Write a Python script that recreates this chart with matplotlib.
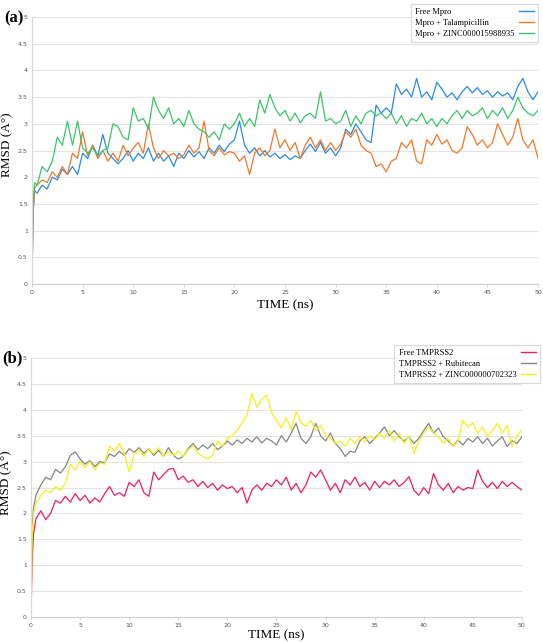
import matplotlib
matplotlib.use("Agg")
import matplotlib.pyplot as plt
import numpy as np

# time axis (ns): a few early frames, then every 0.5 ns
time_ns = [0.0, 0.1, 0.25] + [0.5 * i for i in range(1, 101)]

# ---- panel (a): Mpro ----
free_mpro = [0.0, 1.30, 1.75,
             1.70, 1.85, 1.78, 2.00, 1.95, 2.15, 2.05, 2.20, 2.05, 2.45,
             2.35, 2.60, 2.40, 2.80, 2.45, 2.35, 2.25, 2.35, 2.50, 2.30,
             2.45, 2.35, 2.55, 2.30, 2.45, 2.30, 2.40, 2.20, 2.45, 2.35,
             2.50, 2.38, 2.48, 2.35, 2.55, 2.45, 2.60, 2.48, 2.62, 2.70,
             3.05, 2.60, 2.45, 2.55, 2.40, 2.50, 2.38, 2.45, 2.35, 2.42,
             2.33, 2.40, 2.35, 2.50, 2.62, 2.48, 2.65, 2.45, 2.55, 2.40,
             2.55, 2.90, 2.80, 3.00, 2.85, 2.70, 2.65, 3.35, 3.20, 3.30,
             3.20, 3.75, 3.55, 3.65, 3.50, 3.85, 3.50, 3.60, 3.45, 3.78,
             3.65, 3.50, 3.58, 3.45, 3.60, 3.70, 3.58, 3.68, 3.55, 3.62,
             3.50, 3.60, 3.52, 3.58, 3.45, 3.70, 3.85, 3.60, 3.45, 3.60]

mpro_talampicillin = [0.0, 1.30, 1.80,
                      1.85, 1.95, 1.90, 2.10, 2.00, 2.20, 2.05, 2.45, 2.35, 2.85,
                      2.40, 2.60, 2.35, 2.50, 2.30, 2.45, 2.30, 2.60, 2.40, 2.55,
                      2.65, 2.45, 3.00, 2.55, 2.35, 2.50, 2.40, 2.45, 2.35, 2.42,
                      2.60, 2.45, 2.55, 3.05, 2.50, 2.40, 2.55, 2.42, 2.48, 2.45,
                      2.30, 2.40, 2.05, 2.45, 2.55, 2.40, 2.50, 2.90, 2.55, 2.70,
                      2.50, 2.65, 2.35, 2.60, 2.75, 2.55, 2.70, 2.50, 2.65, 2.50,
                      2.62, 2.85, 2.75, 2.90, 2.60, 2.50, 2.45, 2.20, 2.25, 2.10,
                      2.30, 2.35, 2.65, 2.55, 2.70, 2.30, 2.25, 2.70, 2.60, 2.80,
                      2.62, 2.70, 2.50, 2.45, 2.55, 2.95, 2.80, 2.60, 2.70, 2.55,
                      2.65, 3.00, 2.80, 2.60, 2.75, 3.10, 2.70, 2.55, 2.70, 2.35]

mpro_zinc15988935 = [0.0, 1.40, 1.90,
                     1.85, 2.20, 2.10, 2.30, 2.75, 2.60, 3.05, 2.60, 3.05, 2.55,
                     2.45, 2.55, 2.40, 2.50, 2.55, 3.00, 2.95, 2.75, 2.70, 3.30,
                     3.05, 3.10, 2.90, 3.50, 3.25, 3.10, 3.30, 3.00, 3.10, 2.95,
                     3.25, 3.00, 2.90, 2.85, 2.75, 2.85, 2.70, 3.00, 2.90, 3.00,
                     3.20, 2.95, 3.10, 2.95, 3.45, 3.20, 3.55, 3.30, 3.15, 3.25,
                     3.05, 3.20, 3.02, 3.15, 3.20, 3.10, 3.60, 3.05, 3.10, 3.00,
                     3.05, 3.25, 2.95, 3.15, 3.00, 3.20, 3.25, 3.15, 3.20, 3.10,
                     3.20, 3.00, 3.15, 2.95, 3.10, 3.05, 3.20, 3.00, 3.10, 2.95,
                     3.10, 3.00, 3.15, 3.25, 3.10, 3.25, 3.15, 3.20, 3.30, 3.10,
                     3.25, 3.15, 3.30, 3.10, 3.25, 3.50, 3.30, 3.20, 3.15, 3.25]

# ---- panel (b): TMPRSS2 ----
free_tmprss2 = [0.0, 1.00, 1.60,
                1.90, 2.05, 1.88, 2.00, 2.25, 2.20, 2.33, 2.22, 2.38, 2.25,
                2.35, 2.20, 2.30, 2.22, 2.38, 2.52, 2.35, 2.40, 2.33, 2.60,
                2.52, 2.65, 2.40, 2.33, 2.80, 2.65, 2.75, 2.85, 2.87, 2.65,
                2.72, 2.60, 2.65, 2.52, 2.62, 2.50, 2.58, 2.45, 2.55, 2.48,
                2.52, 2.40, 2.50, 2.20, 2.45, 2.55, 2.45, 2.58, 2.52, 2.65,
                2.55, 2.70, 2.45, 2.58, 2.40, 2.55, 2.80, 2.70, 2.84, 2.65,
                2.45, 2.58, 2.40, 2.65, 2.55, 2.70, 2.52, 2.60, 2.45, 2.62,
                2.50, 2.62, 2.55, 2.65, 2.52, 2.60, 2.71, 2.45, 2.35, 2.50,
                2.38, 2.77, 2.55, 2.45, 2.58, 2.40, 2.52, 2.45, 2.50, 2.48,
                2.84, 2.62, 2.50, 2.60, 2.48, 2.62, 2.52, 2.60, 2.52, 2.45]

tmprss2_rubitecan = [0.0, 1.60, 2.10,
                     2.35, 2.55, 2.70, 2.65, 2.85, 2.78, 2.90, 3.12, 3.19, 3.05,
                     2.95, 3.02, 2.90, 3.00, 2.98, 3.15, 3.10, 3.20, 3.12, 3.25,
                     3.18, 3.27, 3.16, 3.25, 3.12, 3.22, 3.10, 3.27, 3.12, 3.05,
                     3.10, 3.25, 3.35, 3.23, 3.32, 3.25, 3.35, 3.23, 3.30, 3.40,
                     3.32, 3.42, 3.35, 3.45, 3.38, 3.48, 3.36, 3.45, 3.40, 3.32,
                     3.50, 3.38, 3.55, 3.74, 3.45, 3.35, 3.48, 3.74, 3.50, 3.40,
                     3.55, 3.35, 3.25, 3.10, 3.20, 3.18, 3.40, 3.48, 3.35, 3.45,
                     3.55, 3.67, 3.50, 3.60, 3.48, 3.40, 3.48, 3.35, 3.45, 3.60,
                     3.74, 3.55, 3.65, 3.48, 3.40, 3.30, 3.42, 3.32, 3.45, 3.38,
                     3.48, 3.35, 3.45, 3.30, 3.40, 3.48, 3.29, 3.40, 3.35, 3.48]

tmprss2_zinc702323 = [0.0, 1.50, 2.00,
                      2.20, 2.35, 2.45, 2.40, 2.52, 2.45, 2.58, 2.95, 2.85, 3.00,
                      2.88, 3.00, 2.84, 2.97, 2.95, 3.30, 3.20, 3.35, 3.16, 2.80,
                      3.15, 3.23, 3.10, 3.25, 3.15, 3.27, 3.10, 3.20, 3.12, 3.20,
                      3.10, 3.23, 3.30, 3.16, 3.10, 3.05, 3.12, 3.40, 3.30, 3.45,
                      3.50, 3.60, 3.75, 3.90, 4.32, 4.05, 4.20, 4.29, 3.95, 3.80,
                      3.65, 3.85, 3.62, 3.97, 3.75, 3.68, 3.80, 3.60, 3.70, 3.50,
                      3.45, 3.35, 3.40, 3.30, 3.45, 3.35, 3.48, 3.38, 3.50, 3.42,
                      3.55, 3.45, 3.60, 3.40, 3.55, 3.35, 3.50, 3.16, 3.40, 3.55,
                      3.67, 3.55, 3.48, 3.35, 3.45, 3.29, 3.40, 3.80, 3.67, 3.75,
                      3.55, 3.67, 3.48, 3.60, 3.74, 3.55, 3.70, 3.29, 3.50, 3.61]

y_ticks = [0, 0.5, 1, 1.5, 2, 2.5, 3, 3.5, 4, 4.5, 5]
y_tick_labels = ["0", "0.5", "1", "1.5", "2", "2.5", "3", "3.5", "4", "4.5", "5"]
x_ticks = [0, 5, 10, 15, 20, 25, 30, 35, 40, 45, 50]

serif = "Liberation Serif"

fig = plt.figure(figsize=(5.43, 6.42), dpi=100)
ax_a = fig.add_axes([0.0589, 0.5576, 0.932, 0.4159])
ax_b = fig.add_axes([0.0571, 0.0389, 0.904, 0.4034])


def style_axes(ax, ylab_x, xlab_pad):
    ax.set_xlim(0, 50)
    ax.set_ylim(0, 5)
    ax.set_yticks(y_ticks)
    ax.set_yticklabels(y_tick_labels)
    ax.set_xticks(x_ticks)
    ax.grid(axis="y", color="#e3e3e3", lw=0.8)
    ax.set_axisbelow(True)
    for side in ["top", "right"]:
        ax.spines[side].set_visible(False)
    ax.spines["left"].set_color("#d9d9d9")
    ax.spines["bottom"].set_color("#d0d0d0")
    ax.tick_params(axis="x", labelsize=4.5, labelcolor="#555555", color="#d0d0d0",
                   length=2.5, width=0.6, pad=2)
    ax.tick_params(axis="y", labelsize=4.5, labelcolor="#555555", length=0, pad=3)
    ax.set_xlabel("TIME (ns)", fontfamily=serif, fontsize=9.5, labelpad=xlab_pad)
    ax.set_ylabel("RMSD (A°)", fontfamily=serif, fontsize=9.5)
    ax.yaxis.set_label_coords(ylab_x, 0.52)


ax_a.plot(time_ns, free_mpro, color="#2b8be3", lw=0.9, label="Free Mpro")
ax_a.plot(time_ns, mpro_talampicillin, color="#f0782a", lw=0.9, label="Mpro + Talampicillin")
ax_a.plot(time_ns, mpro_zinc15988935, color="#3cc468", lw=0.9, label="Mpro + ZINC000015988935")
style_axes(ax_a, -0.037, 3)

ax_b.plot(time_ns, free_tmprss2, color="#ee1c62", lw=0.9, label="Free TMPRSS2")
ax_b.plot(time_ns, tmprss2_rubitecan, color="#858585", lw=0.9, label="TMPRSS2 + Rubitecan")
ax_b.plot(time_ns, tmprss2_zinc702323, color="#f2f01e", lw=0.9, label="TMPRSS2 + ZINC000000702323")
style_axes(ax_b, -0.039, 0.5)

leg_kw = dict(markerfirst=False, frameon=True, fancybox=False, handlelength=1.8,
              borderpad=0.5, labelspacing=0.35, handletextpad=0.5, borderaxespad=0,
              prop={"family": serif, "size": 6.1})
leg_a = ax_a.legend(loc="upper right", bbox_to_anchor=(0.9908, 0.9938),
                    bbox_transform=fig.transFigure, **leg_kw)
leg_b = ax_b.legend(loc="upper right", bbox_to_anchor=(0.9945, 0.4626),
                    bbox_transform=fig.transFigure, **leg_kw)

# keep legend text left-aligned with the line samples on the right
renderer = fig.canvas.get_renderer()
for leg in (leg_a, leg_b):
    leg.get_frame().set_edgecolor("#d0d0d0")
    leg.get_frame().set_linewidth(0.8)
    for line in leg.get_lines():
        line.set_linewidth(1.0)
    for column in leg._legend_handle_box.get_children():
        rows = column.get_children()
        column.width = max(r.get_bbox(renderer).width for r in rows)
        for r in rows:
            r.mode = "expand"

fig.text(0.008, 0.972, "(a)", fontfamily=serif, fontweight="bold", fontsize=12,
         va="center", ha="left")
fig.text(0.005, 0.442, "(b)", fontfamily=serif, fontweight="bold", fontsize=12,
         va="center", ha="left")

fig.savefig("out.png", dpi=100)
